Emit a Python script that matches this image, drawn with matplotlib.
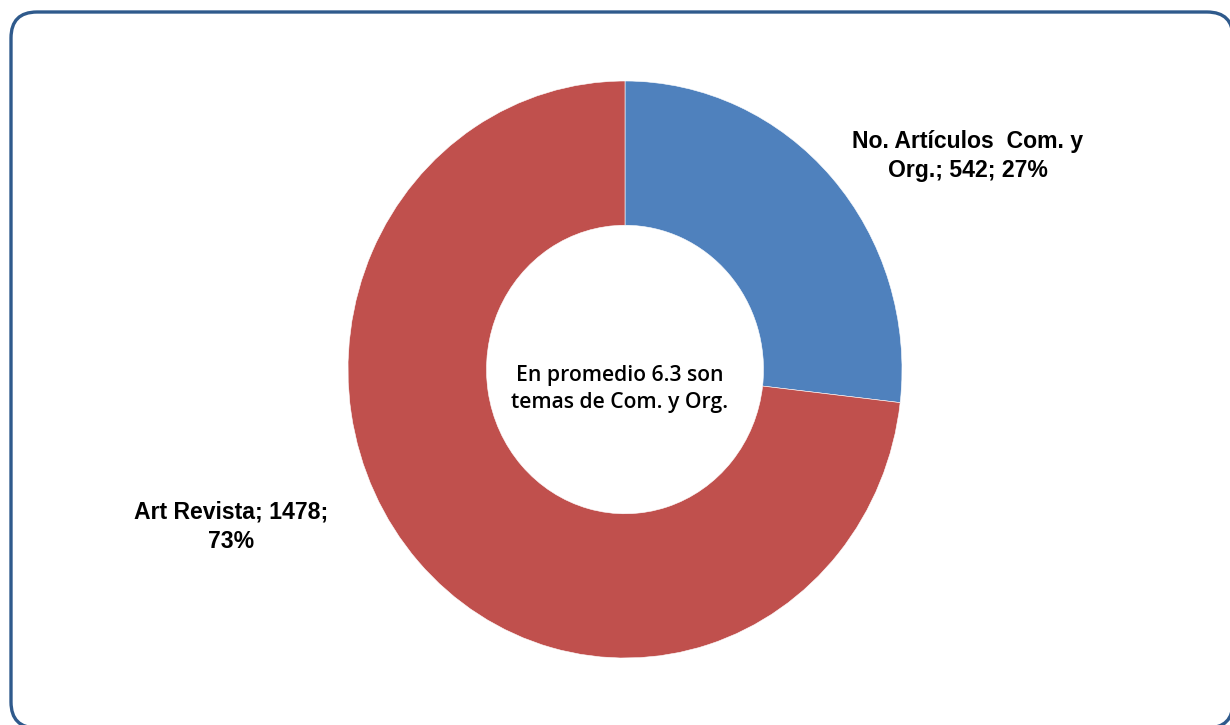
import matplotlib
matplotlib.use("Agg")
import matplotlib.pyplot as plt
from matplotlib.patches import FancyBboxPatch

# data
labels = ["No. Artículos  Com. y\nOrg.", "Art Revista"]
counts = [542, 1478]
percents = [27, 73]
colors = ["#4F81BD", "#C0504D"]
center_note = "En promedio 6.3 son\ntemas de Com. y Org."

W, H = 1230, 725
fig = plt.figure(figsize=(W / 100, H / 100), dpi=100)
fig.patch.set_facecolor("white")

# background frame with rounded border, pixel coordinates
bg = fig.add_axes([0, 0, 1, 1])
bg.set_xlim(0, W)
bg.set_ylim(H, 0)
bg.axis("off")
bg.add_patch(FancyBboxPatch((11, 12), 1222, 716,
                            boxstyle="round,pad=0,rounding_size=26",
                            facecolor="white", edgecolor="#2F5A8C", lw=2.4))

# donut axes placed over the ring's pixel extent
left, right, top, bottom = 348, 902, 81, 658
ax = fig.add_axes([left / W, 1 - bottom / H, (right - left) / W, (bottom - top) / H])
ax.pie(counts, colors=colors, startangle=90, counterclock=False, radius=1,
       wedgeprops=dict(width=0.5, edgecolor="white", linewidth=0.4))
ax.set_aspect("auto")
ax.set_xlim(-1, 1)
ax.set_ylim(-1, 1)
ax.axis("off")

bold = dict(fontfamily="Liberation Sans", fontweight="bold", fontsize=16.6,
            color="black", ha="center", va="center", linespacing=1.38)
txt0 = f"{labels[0]}; {counts[0]}; {percents[0]}%"
txt1 = f"{labels[1]}; {counts[1]};\n{percents[1]}%"
bg.text(968, 156, txt0, **bold)
bg.text(231, 527, txt1, **bold)

bg.text(620, 389, center_note, fontfamily="Open Sans", fontweight="semibold",
        fontsize=15.2, color="black", ha="center", va="center", linespacing=1.42)

fig.savefig("out.png", dpi=100)
